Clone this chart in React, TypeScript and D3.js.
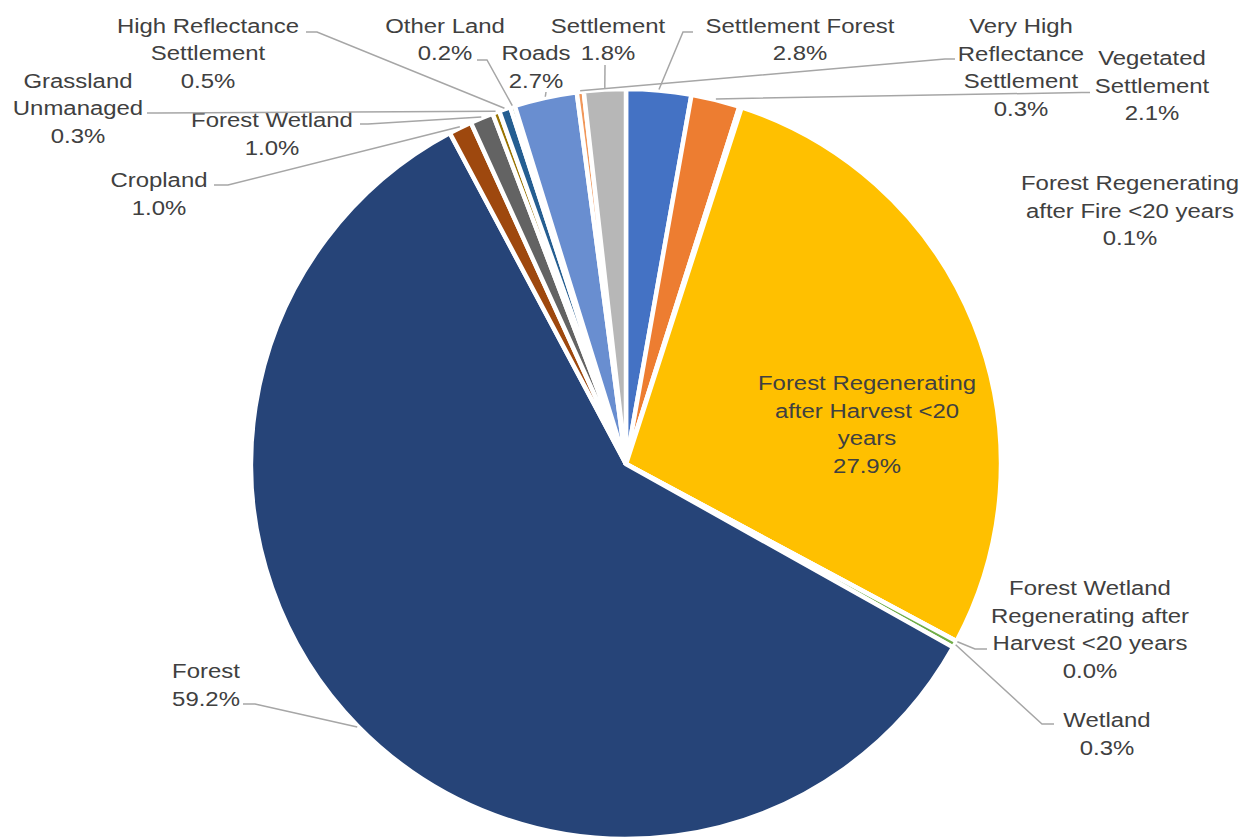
import React from "react";
import * as d3 from "d3";

const categories = [
  "Settlement Forest",
  "Vegetated Settlement",
  "Forest Regenerating after Fire <20 years",
  "Forest Regenerating after Harvest <20 years",
  "Forest Wetland Regenerating after Harvest <20 years",
  "Wetland",
  "Forest",
  "Cropland",
  "Forest Wetland",
  "Grassland Unmanaged",
  "High Reflectance Settlement",
  "Other Land",
  "Roads",
  "Very High Reflectance Settlement",
  "Settlement",
];
const values = [2.8, 2.1, 0.1, 27.9, 0.0, 0.3, 59.2, 1.0, 1.0, 0.3, 0.5, 0.2, 2.7, 0.3, 1.8];
const colors = [
  "#4472C4", "#ED7D31", "#A5A5A5", "#FFC000", "#5B9BD5", "#70AD47", "#264478",
  "#9E480E", "#636363", "#997300", "#255E91", "#43682B", "#698ED0", "#F1975A", "#B7B7B7",
];

// label layout: name lines, center x, baselines, leader start + elbow (end computed from arc)
type LabelLayout = {
  name: string;
  lines: string[];
  cx: number;
  ys: number[];
  leader?: number[][];
};
const labelLayout: LabelLayout[] = [
  { name: "Settlement Forest", lines: ["Settlement Forest"], cx: 800, ys: [32.5, 60], leader: [[693, 32], [683, 32]] },
  { name: "Vegetated Settlement", lines: ["Vegetated", "Settlement"], cx: 1152, ys: [65, 92.5, 120], leader: [[1090, 92.5], [1082, 92.5]] },
  { name: "Forest Regenerating after Fire <20 years", lines: ["Forest Regenerating", "after Fire <20 years"], cx: 1130, ys: [190, 217.5, 245] },
  { name: "Forest Regenerating after Harvest <20 years", lines: ["Forest Regenerating", "after Harvest <20", "years"], cx: 867, ys: [390, 417.5, 445, 472.5] },
  { name: "Forest Wetland Regenerating after Harvest <20 years", lines: ["Forest Wetland", "Regenerating after", "Harvest <20 years"], cx: 1090, ys: [595, 622.5, 650, 677.5], leader: [[987, 649], [975, 649]] },
  { name: "Wetland", lines: ["Wetland"], cx: 1107, ys: [727, 754.5], leader: [[1054, 724], [1042, 724]] },
  { name: "Forest", lines: ["Forest"], cx: 206, ys: [678, 705.5], leader: [[243, 704], [255, 704]] },
  { name: "Cropland", lines: ["Cropland"], cx: 159, ys: [187, 214.5], leader: [[214, 185], [228, 185]] },
  { name: "Forest Wetland", lines: ["Forest Wetland"], cx: 272, ys: [127, 154.5], leader: [[360, 124], [368, 124]] },
  { name: "Grassland Unmanaged", lines: ["Grassland", "Unmanaged"], cx: 78, ys: [87.5, 115, 142.5], leader: [[147, 113], [157, 113]] },
  { name: "High Reflectance Settlement", lines: ["High Reflectance", "Settlement"], cx: 208, ys: [32.5, 60, 87.5], leader: [[306, 32], [317, 32]] },
  { name: "Other Land", lines: ["Other Land"], cx: 445, ys: [32.5, 60], leader: [[477, 60], [487, 60]] },
  { name: "Roads", lines: ["Roads"], cx: 536, ys: [60, 87.5], leader: [[546, 92]] },
  { name: "Very High Reflectance Settlement", lines: ["Very High", "Reflectance", "Settlement"], cx: 1021, ys: [33, 60.5, 88, 115.5], leader: [[955, 59], [945, 59]] },
  { name: "Settlement", lines: ["Settlement"], cx: 608, ys: [32.5, 60], leader: [[605, 65]] },
];

const W = 1245;
const H = 838;
const CX = 626;
const CY = 464;
const R = 375;
const FONT = "'Liberation Sans', Arial, Helvetica, sans-serif";
const FS = 21;
const SX = 1.14;

export default function App() {
  const data = categories.map((c, i) => ({ name: c, value: values[i], color: colors[i] }));
  const pie = d3.pie<any>().sort(null).value((d: any) => d.value);
  const arcs = pie(data);
  const arc = d3.arc<any>().innerRadius(0).outerRadius(R);
  const edge = d3.arc<any>().innerRadius(R + 1).outerRadius(R + 1);
  const fmt = d3.format(".1f");

  return (
    <svg width={W} height={H} style={{ position: "absolute", left: 0, top: 0, background: "#fff" }}>
      <g transform={`translate(${CX},${CY})`}>
        {arcs.map((a, i) => (
          <path key={i} d={arc(a) || ""} fill={a.data.color} stroke="#fff" strokeWidth={4.5} strokeLinejoin="miter" />
        ))}
      </g>
      {labelLayout.map((l, i) => {
        const idx = categories.indexOf(l.name);
        const a = arcs[idx];
        const [ex, ey] = edge.centroid(a);
        const pts = l.leader ? [...l.leader, [ex + CX, ey + CY]] : null;
        const allLines = [...l.lines, fmt(values[idx]) + "%"];
        return (
          <g key={i}>
            {pts && (
              <polyline
                points={pts.map((p) => p.join(",")).join(" ")}
                fill="none"
                stroke="#A6A6A6"
                strokeWidth={1.5}
              />
            )}
            {allLines.map((t, j) => (
              <text
                key={j}
                transform={`translate(${l.cx},${l.ys[j]}) scale(${SX},1)`}
                textAnchor="middle"
                fontFamily={FONT}
                fontSize={FS}
                fill="#404040"
              >
                {t}
              </text>
            ))}
          </g>
        );
      })}
    </svg>
  );
}
